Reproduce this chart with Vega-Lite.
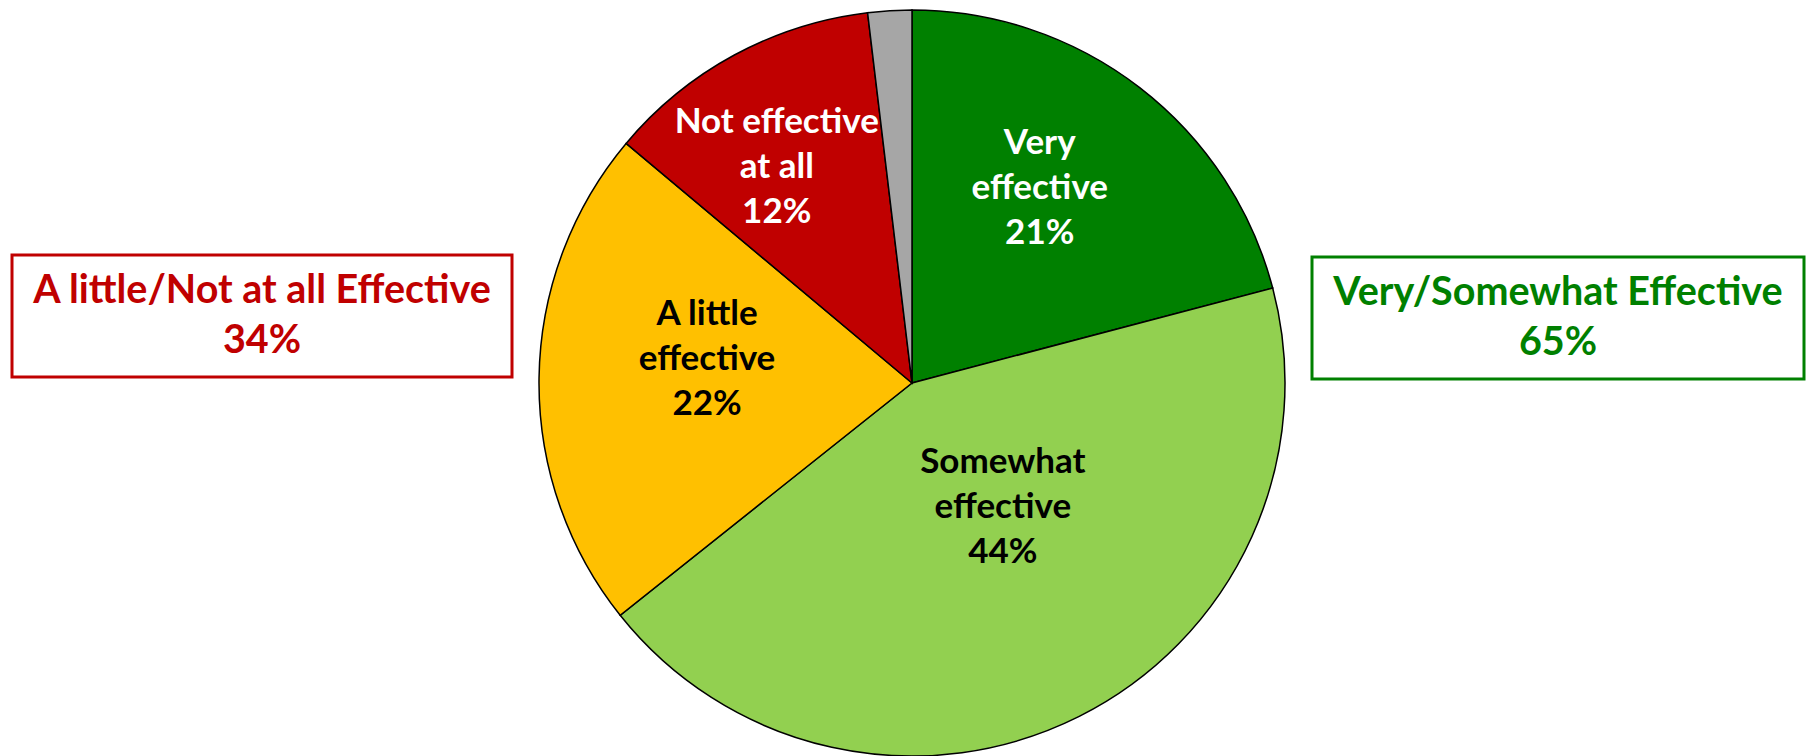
{
  "$schema": "https://vega.github.io/schema/vega-lite/v6.json",
  "padding": {"left": 10, "top": 7, "right": 0, "bottom": 0},
  "background": "white",
  "config": {"view": {"stroke": null}},
  "datasets": {
    "slices": [
      {"category": "Very effective", "value": 20.9, "order": 1, "label": "Very\neffective\n21%"},
      {"category": "Somewhat effective", "value": 43.4, "order": 2, "label": "Somewhat\neffective\n44%"},
      {"category": "A little effective", "value": 21.8, "order": 3, "label": "A little\neffective\n22%"},
      {"category": "Not effective at all", "value": 12.0, "order": 4, "label": "Not effective\nat all\n12%"},
      {"category": "Not sure", "value": 1.9, "order": 5, "label": ""}
    ],
    "boxes": [
      {"side": "left", "label": "A little/Not at all Effective\n34%"},
      {"side": "right", "label": "Very/Somewhat Effective\n65%"}
    ]
  },
  "spacing": 22,
  "hconcat": [
    {
      "spacing": 0,
      "vconcat": [
        {"width": 500, "height": 244, "data": {"values": [{}]}, "mark": {"type": "text", "text": ""}},
        {
          "width": 500, "height": 122,
          "view": {"stroke": "#C00000", "strokeWidth": 3},
          "data": {"name": "boxes"},
          "transform": [{"filter": "datum.side === 'left'"}],
          "mark": {"type": "text", "font": "Lato", "fontWeight": "bold", "fontSize": 39.5, "color": "#C00000", "lineBreak": "\n", "lineHeight": 50, "baseline": "middle", "align": "center", "dy": -25},
          "encoding": {"text": {"field": "label"}}
        }
      ]
    },
    {
      "width": 748, "height": 748,
      "data": {"name": "slices"},
      "layer": [
        {
          "mark": {"type": "arc", "outerRadius": 373, "stroke": "black", "strokeWidth": 1.5},
          "encoding": {
            "theta": {"field": "value", "type": "quantitative", "stack": true},
            "order": {"field": "order", "type": "quantitative"},
            "color": {"field": "category", "type": "nominal", "legend": null,
              "scale": {"domain": ["Very effective", "Somewhat effective", "A little effective", "Not effective at all", "Not sure"],
                        "range": ["#008000", "#92D050", "#FFC000", "#C00000", "#A6A6A6"]}}
          }
        },
        {
          "mark": {"type": "text", "radius": 242, "font": "Lato", "fontWeight": "bold", "fontSize": 35, "lineBreak": "\n", "lineHeight": 45, "color": "white", "align": "center", "baseline": "middle", "dx": -20, "dy": -48},
          "encoding": {
            "theta": {"field": "value", "type": "quantitative", "stack": true},
            "order": {"field": "order", "type": "quantitative"},
            "text": {"condition": {"test": "datum.category === 'Very effective' || datum.category === 'Not effective at all'", "field": "label"}, "value": ""}
          }
        },
        {
          "mark": {"type": "text", "radius": 205, "font": "Lato", "fontWeight": "bold", "fontSize": 35, "lineBreak": "\n", "lineHeight": 45, "color": "black", "align": "center", "baseline": "middle", "dy": -66},
          "encoding": {
            "theta": {"field": "value", "type": "quantitative", "stack": true},
            "order": {"field": "order", "type": "quantitative"},
            "text": {"condition": {"test": "datum.category === 'A little effective'", "field": "label"}, "value": ""}
          }
        },
        {
          "mark": {"type": "text", "radius": 158, "font": "Lato", "fontWeight": "bold", "fontSize": 35, "lineBreak": "\n", "lineHeight": 45, "color": "black", "align": "center", "baseline": "middle", "dx": 20, "dy": -62},
          "encoding": {
            "theta": {"field": "value", "type": "quantitative", "stack": true},
            "order": {"field": "order", "type": "quantitative"},
            "text": {"condition": {"test": "datum.category === 'Somewhat effective'", "field": "label"}, "value": ""}
          }
        }
      ]
    },
    {
      "spacing": 0,
      "vconcat": [
        {"width": 492, "height": 246, "data": {"values": [{}]}, "mark": {"type": "text", "text": ""}},
        {
          "width": 492, "height": 122,
          "view": {"stroke": "#008000", "strokeWidth": 3},
          "data": {"name": "boxes"},
          "transform": [{"filter": "datum.side === 'right'"}],
          "mark": {"type": "text", "font": "Lato", "fontWeight": "bold", "fontSize": 39.5, "color": "#008000", "lineBreak": "\n", "lineHeight": 50, "baseline": "middle", "align": "center", "dy": -25},
          "encoding": {"text": {"field": "label"}}
        }
      ]
    }
  ]
}
